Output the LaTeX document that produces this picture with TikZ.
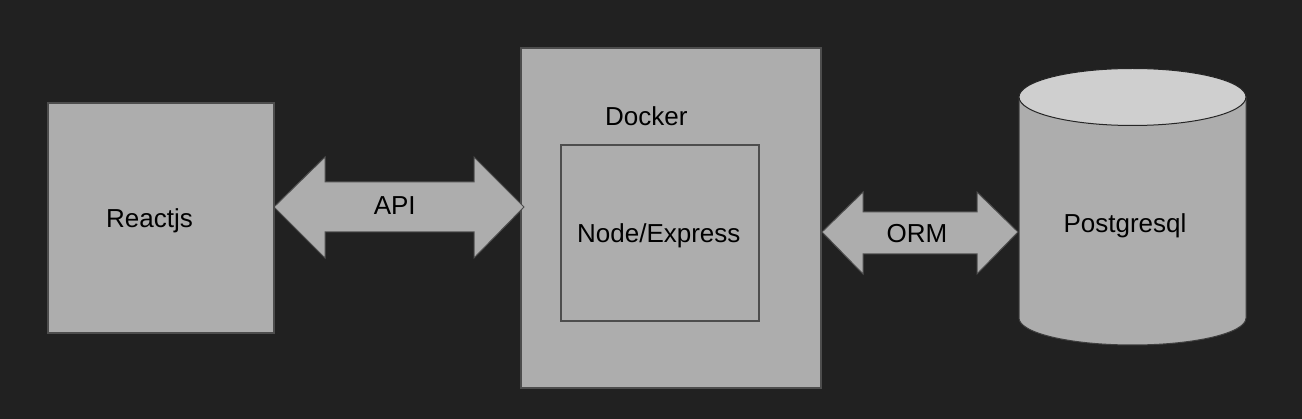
\documentclass[tikz,border=0pt]{standalone}
\usepackage{fontspec}
\setmainfont{Liberation Sans}
\definecolor{bgc}{HTML}{212121}
\definecolor{boxfill}{HTML}{ADADAD}
\definecolor{topfill}{HTML}{CFCFCF}
\definecolor{edge}{HTML}{4D4D4D}
\tikzset{
  box/.style={draw=edge, fill=boxfill, line width=1.3pt, inner sep=0pt},
  inner/.style={draw=edge, fill=none, line width=1.3pt, inner sep=0pt},
  lbl/.style={text=black, font=\fontsize{26}{31}\selectfont, inner sep=0pt, anchor=base},
  fatarrow/.style={draw=edge, fill=boxfill, line width=1pt, line join=miter},
}
\begin{document}
\begin{tikzpicture}[x=1pt, y=-1pt]
\fill[bgc] (0,0) rectangle (1302,419);
\useasboundingbox (0,0) rectangle (1302,419);

% Reactjs
\node[box, minimum width=226pt, minimum height=230pt] (react) at (161,218) {};
\node[lbl] (reactlbl) at (149.5,227.7) {Reactjs};

% Docker
\node[box, minimum width=300pt, minimum height=340pt] (docker) at (671,218) {};
\node[lbl] (dockerlbl) at (646.3,126) {Docker};
\node[inner, minimum width=198pt, minimum height=176pt] (express) at (660,233) {};
\node[lbl] (expresslbl) at (658.8,242.7) {Node/Express};

% API double arrow
\coordinate (apiL) at (274,207);
\coordinate (apiR) at (524,207);
\draw[fatarrow] (apiL) -- (325,157) -- (325,182) -- (474,182) -- (474,157) -- (apiR)
  -- (474,258) -- (474,232) -- (325,232) -- (325,258) -- cycle;
\node[lbl] (api) at (394.7,215) {API};

% ORM double arrow
\coordinate (ormL) at (822,232);
\coordinate (ormR) at (1018,232);
\draw[fatarrow] (ormL) -- (863,192) -- (863,212) -- (977,212) -- (977,192) -- (ormR)
  -- (977,274) -- (977,254) -- (863,254) -- (863,274) -- cycle;
\node[lbl] (orm) at (917,242.7) {ORM};

% Postgresql cylinder
\draw[draw=edge!80!black, fill=boxfill, line width=1pt]
  (1019,97) -- (1019,318) arc[start angle=180, end angle=0, x radius=113.5, y radius=27]
  -- (1246,97) -- cycle;
\draw[draw=black!85, fill=topfill, line width=1pt]
  (1132.5,97) ellipse[x radius=113.5, y radius=28.5];
\node[lbl] (pg) at (1125,232.3) {Postgresql};
\end{tikzpicture}
\end{document}
